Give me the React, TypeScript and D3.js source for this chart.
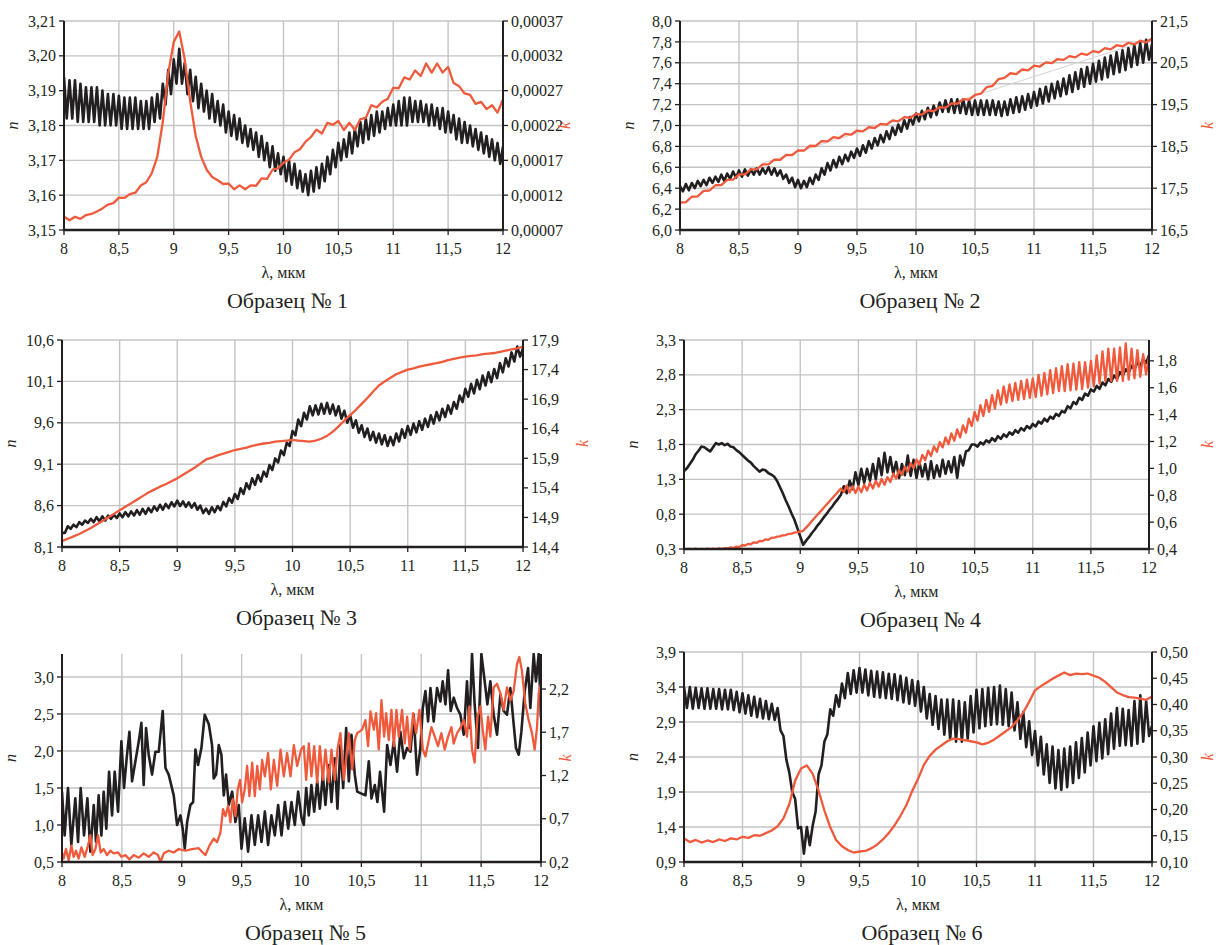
import React from "react";
import * as d3 from "d3";

const INK = "#231f20";
const RED = "#f05a3c";
const GRID = "#c4c4c4";
const FONT = "'Liberation Serif', 'Times New Roman', serif";

const lambdaTicks = [8, 8.5, 9, 9.5, 10, 10.5, 11, 11.5, 12];

// ---- Образец № 1 (n step 0.025 мкм, k step 0.05 мкм)
const n1 = [
  3.194, 3.182, 3.193, 3.182, 3.193, 3.181, 3.192, 3.181, 3.191, 3.181,
  3.191, 3.181, 3.191, 3.18, 3.19, 3.18, 3.189, 3.18, 3.189, 3.18,
  3.1885, 3.179, 3.188, 3.179, 3.188, 3.179, 3.188, 3.179, 3.187, 3.179,
  3.187, 3.179, 3.188, 3.181, 3.189, 3.182, 3.192, 3.186, 3.196, 3.189,
  3.199, 3.192, 3.202, 3.192, 3.198, 3.189, 3.196, 3.187, 3.194, 3.185,
  3.192, 3.184, 3.19, 3.182, 3.189, 3.181, 3.187, 3.18, 3.186, 3.178,
  3.184, 3.177, 3.183, 3.176, 3.182, 3.175, 3.18, 3.174, 3.179, 3.173,
  3.178, 3.171, 3.177, 3.17, 3.175, 3.168, 3.174, 3.167, 3.172, 3.166,
  3.171, 3.164, 3.17, 3.163, 3.169, 3.162, 3.167, 3.161, 3.166, 3.16,
  3.167, 3.161, 3.168, 3.162, 3.169, 3.164, 3.171, 3.166, 3.173, 3.168,
  3.175, 3.17, 3.176, 3.171, 3.178, 3.172, 3.179, 3.174, 3.181, 3.175,
  3.182, 3.176, 3.183, 3.177, 3.184, 3.178, 3.184, 3.179, 3.185, 3.18,
  3.186, 3.18, 3.187, 3.18, 3.188, 3.18, 3.188, 3.181, 3.187, 3.181,
  3.187, 3.181, 3.186, 3.18, 3.186, 3.18, 3.185, 3.179, 3.185, 3.178,
  3.184, 3.178, 3.183, 3.176, 3.182, 3.175, 3.181, 3.175, 3.18, 3.174,
  3.179, 3.173, 3.178, 3.172, 3.177, 3.171, 3.176, 3.17, 3.175, 3.169,
  3.174,
];
const k1 = [
  8.9e-5, 8.4e-5, 8.9e-5, 8.6e-5, 9.15e-5, 9.3e-5, 9.65e-5, 10.1e-5, 10.65e-5, 10.85e-5,
  11.65e-5, 11.6e-5, 12.15e-5, 12.35e-5, 13.4e-5, 13.85e-5, 15.15e-5, 17.5e-5, 22.5e-5, 29.5e-5,
  34e-5, 35.5e-5, 31.5e-5, 25.5e-5, 20.5e-5, 17.5e-5, 15.65e-5, 14.6e-5, 14.15e-5, 13.6e-5,
  13.65e-5, 12.85e-5, 13.4e-5, 12.85e-5, 13.4e-5, 13.35e-5, 14.4e-5, 14.35e-5, 15.65e-5, 15.85e-5,
  16.65e-5, 17.1e-5, 18.15e-5, 18.6e-5, 19.65e-5, 20.35e-5, 21.4e-5, 20.85e-5, 22.4e-5, 22.1e-5,
  22.65e-5, 21.35e-5, 22.4e-5, 21.35e-5, 22.9e-5, 23.1e-5, 24.9e-5, 24.6e-5, 25.4e-5, 25.85e-5,
  27.4e-5, 27.35e-5, 28.9e-5, 28.6e-5, 29.9e-5, 29.1e-5, 30.9e-5, 29.6e-5, 30.9e-5, 29.6e-5,
  30.4e-5, 28.1e-5, 27.65e-5, 26.6e-5, 26.4e-5, 25.1e-5, 25.4e-5, 24.35e-5, 24.9e-5, 23.85e-5,
  25.75e-5,
];
const nTicks1 = [3.15, 3.16, 3.17, 3.18, 3.19, 3.2, 3.21];
const kTicks1 = [0.00007, 0.00012, 0.00017, 0.00022, 0.00027, 0.00032, 0.00037];

// ---- Образец № 2
const n2 = [
  6.42, 6.37, 6.44, 6.38, 6.45, 6.4, 6.47, 6.42, 6.48, 6.43,
  6.5, 6.45, 6.51, 6.46, 6.53, 6.47, 6.54, 6.49, 6.56, 6.5,
  6.57, 6.51, 6.58, 6.52, 6.58, 6.53, 6.59, 6.53, 6.59, 6.54,
  6.6, 6.53, 6.59, 6.52, 6.57, 6.49, 6.53, 6.45, 6.5, 6.41,
  6.48, 6.4, 6.47, 6.41, 6.5, 6.44, 6.53, 6.48, 6.59, 6.53,
  6.64, 6.57, 6.67, 6.6, 6.7, 6.63, 6.72, 6.66, 6.75, 6.69,
  6.78, 6.71, 6.81, 6.74, 6.85, 6.78, 6.88, 6.81, 6.91, 6.84,
  6.945, 6.87, 6.98, 6.91, 7.01, 6.94, 7.05, 6.97, 7.08, 7.01,
  7.115, 7.04, 7.14, 7.06, 7.17, 7.08, 7.19, 7.1, 7.22, 7.13,
  7.24, 7.13, 7.25, 7.12, 7.25, 7.12, 7.25, 7.11, 7.24, 7.1,
  7.24, 7.1, 7.24, 7.1, 7.24, 7.1, 7.24, 7.1, 7.23, 7.09,
  7.23, 7.1, 7.25, 7.12, 7.27, 7.13, 7.28, 7.15, 7.3, 7.17,
  7.32, 7.19, 7.35, 7.21, 7.37, 7.23, 7.4, 7.26, 7.42, 7.28,
  7.45, 7.3, 7.48, 7.32, 7.51, 7.35, 7.54, 7.37, 7.56, 7.4,
  7.59, 7.42, 7.62, 7.44, 7.65, 7.46, 7.67, 7.49, 7.7, 7.51,
  7.72, 7.53, 7.74, 7.56, 7.77, 7.58, 7.79, 7.6, 7.82, 7.63,
  7.78,
];
const k2 = [
  17.155, 17.165, 17.295, 17.305, 17.435, 17.445, 17.57, 17.575, 17.7, 17.705,
  17.83, 17.83, 17.95, 17.95, 18.07, 18.07, 18.185, 18.18, 18.295, 18.29,
  18.405, 18.4, 18.515, 18.51, 18.625, 18.62, 18.72, 18.7, 18.8, 18.78,
  18.88, 18.86, 18.96, 18.94, 19.04, 19.02, 19.12, 19.1, 19.2, 19.18,
  19.28, 19.26, 19.36, 19.34, 19.44, 19.42, 19.53, 19.52, 19.63, 19.62,
  19.73, 19.76, 19.92, 19.95, 20.11, 20.14, 20.25, 20.23, 20.34, 20.32,
  20.43, 20.41, 20.51, 20.49, 20.59, 20.57, 20.66, 20.63, 20.72, 20.69,
  20.78, 20.75, 20.85, 20.82, 20.92, 20.89, 20.98, 20.94, 21.03, 20.99,
  21.08,
];
const trend2: [number, number][] = [[8.7, 18.1], [12, 21.07]];
const nTicks2 = [6.0, 6.2, 6.4, 6.6, 6.8, 7.0, 7.2, 7.4, 7.6, 7.8, 8.0];
const kTicks2 = [16.5, 17.5, 18.5, 19.5, 20.5, 21.5];

// ---- Образец № 3
const n3 = [
  8.27, 8.27, 8.35, 8.32, 8.37, 8.34, 8.4, 8.37, 8.42, 8.39,
  8.44, 8.4, 8.46, 8.41, 8.47, 8.42, 8.48, 8.44, 8.49, 8.45,
  8.505, 8.46, 8.52, 8.47, 8.53, 8.48, 8.545, 8.49, 8.56, 8.5,
  8.57, 8.52, 8.59, 8.54, 8.61, 8.55, 8.62, 8.57, 8.64, 8.59,
  8.66, 8.595, 8.65, 8.585, 8.64, 8.575, 8.63, 8.55, 8.6, 8.51,
  8.565, 8.5, 8.58, 8.52, 8.595, 8.545, 8.645, 8.59, 8.69, 8.635,
  8.74, 8.68, 8.81, 8.74, 8.87, 8.8, 8.93, 8.85, 8.97, 8.89,
  9.01, 8.95, 9.09, 9.03, 9.17, 9.12, 9.265, 9.21, 9.36, 9.32,
  9.5, 9.45, 9.64, 9.56, 9.72, 9.64, 9.8, 9.69, 9.81, 9.7,
  9.83, 9.71, 9.84, 9.71, 9.82, 9.69, 9.8, 9.65, 9.745, 9.6,
  9.69, 9.54, 9.63, 9.48, 9.57, 9.43, 9.53, 9.39, 9.49, 9.36,
  9.47, 9.34, 9.45, 9.32, 9.43, 9.33, 9.47, 9.375, 9.52, 9.42,
  9.56, 9.455, 9.59, 9.485, 9.62, 9.515, 9.65, 9.55, 9.69, 9.59,
  9.73, 9.63, 9.77, 9.67, 9.81, 9.71, 9.85, 9.77, 9.93, 9.85,
  10.01, 9.915, 10.07, 9.955, 10.12, 10.005, 10.17, 10.05, 10.21, 10.09,
  10.25, 10.14, 10.32, 10.21, 10.38, 10.28, 10.45, 10.34, 10.52, 10.4,
  10.5,
];
const k3 = [
  14.5, 14.54, 14.58, 14.62, 14.67, 14.72, 14.78, 14.84, 14.9, 14.96,
  15.02, 15.08, 15.14, 15.2, 15.26, 15.32, 15.37, 15.42, 15.46, 15.51,
  15.56, 15.62, 15.68, 15.74, 15.81, 15.88, 15.91, 15.95, 15.98, 16.01,
  16.04, 16.06, 16.08, 16.11, 16.13, 16.15, 16.16, 16.18, 16.19, 16.2,
  16.21, 16.2, 16.19, 16.18, 16.2, 16.23, 16.28, 16.35, 16.44, 16.54,
  16.63, 16.72, 16.82, 16.92, 17.03, 17.13, 17.2, 17.26, 17.32, 17.36,
  17.4, 17.42, 17.45, 17.47, 17.49, 17.51, 17.53, 17.56, 17.58, 17.6,
  17.62, 17.63, 17.64, 17.66, 17.67, 17.68, 17.7, 17.72, 17.74, 17.76,
  17.79,
];
const nTicks3 = [8.1, 8.6, 9.1, 9.6, 10.1, 10.6];
const kTicks3 = [14.4, 14.9, 15.4, 15.9, 16.4, 16.9, 17.4, 17.9];

// ---- Образец № 4
const n4 = [
  1.42, 1.46, 1.52, 1.58, 1.66, 1.71, 1.77, 1.76, 1.73, 1.7,
  1.76, 1.82, 1.8, 1.82, 1.79, 1.81, 1.77, 1.76, 1.72, 1.69,
  1.65, 1.61, 1.57, 1.54, 1.49, 1.45, 1.41, 1.44, 1.43, 1.39,
  1.37, 1.34, 1.28, 1.19, 1.1, 1.0, 0.91, 0.81, 0.72, 0.6,
  0.48, 0.36, 0.42, 0.47, 0.53, 0.58, 0.64, 0.69, 0.75, 0.8,
  0.86, 0.91, 0.97, 1.02, 1.08, 1.2, 1.1, 1.28, 1.16, 1.4,
  1.22, 1.45, 1.25, 1.45, 1.28, 1.52, 1.3, 1.6, 1.36, 1.68,
  1.4, 1.62, 1.38, 1.55, 1.32, 1.52, 1.36, 1.64, 1.35, 1.58,
  1.32, 1.55, 1.34, 1.52, 1.3, 1.56, 1.32, 1.5, 1.34, 1.58,
  1.38, 1.56, 1.4, 1.62, 1.32, 1.64, 1.5, 1.7, 1.72, 1.8,
  1.8, 1.77, 1.83, 1.8, 1.86, 1.83, 1.89, 1.85, 1.92, 1.88,
  1.945, 1.91, 1.975, 1.94, 2.005, 1.97, 2.035, 2.0, 2.065, 2.03,
  2.095, 2.06, 2.13, 2.1, 2.17, 2.13, 2.2, 2.17, 2.24, 2.21,
  2.28, 2.26, 2.35, 2.32, 2.41, 2.38, 2.47, 2.44, 2.53, 2.5,
  2.59, 2.56, 2.64, 2.6, 2.69, 2.65, 2.74, 2.7, 2.79, 2.74,
  2.84, 2.79, 2.88, 2.83, 2.93, 2.88, 2.98, 2.92, 3.03, 2.97,
  3.08,
];
const k4 = [
  0.402, 0.398, 0.401, 0.397, 0.402, 0.398, 0.401, 0.398, 0.402, 0.399,
  0.403, 0.399, 0.404, 0.401, 0.407, 0.404, 0.412, 0.408, 0.418, 0.414,
  0.428, 0.426, 0.438, 0.435, 0.45, 0.446, 0.46, 0.458, 0.472, 0.468,
  0.482, 0.484, 0.492, 0.494, 0.502, 0.504, 0.512, 0.514, 0.522, 0.525,
  0.53, 0.535, 0.559, 0.583, 0.608, 0.632, 0.656, 0.68, 0.705, 0.729,
  0.753, 0.777, 0.802, 0.826, 0.85, 0.823, 0.872, 0.82, 0.868, 0.817,
  0.865, 0.822, 0.879, 0.836, 0.893, 0.85, 0.907, 0.864, 0.921, 0.878,
  0.935, 0.898, 0.961, 0.924, 0.987, 0.95, 1.013, 0.976, 1.039, 1.002,
  1.065, 1.028, 1.1, 1.06, 1.132, 1.092, 1.164, 1.124, 1.196, 1.156,
  1.23, 1.18, 1.26, 1.205, 1.29, 1.23, 1.32, 1.265, 1.37, 1.315,
  1.42, 1.355, 1.47, 1.39, 1.51, 1.42, 1.545, 1.445, 1.58, 1.475,
  1.61, 1.49, 1.625, 1.5, 1.635, 1.51, 1.65, 1.515, 1.66, 1.525,
  1.67, 1.53, 1.695, 1.54, 1.71, 1.55, 1.73, 1.56, 1.745, 1.575,
  1.76, 1.575, 1.775, 1.58, 1.78, 1.585, 1.79, 1.59, 1.79, 1.6,
  1.8, 1.61, 1.84, 1.63, 1.87, 1.65, 1.89, 1.65, 1.89, 1.65,
  1.9, 1.65, 1.93, 1.66, 1.89, 1.67, 1.88, 1.68, 1.85, 1.7,
  1.83,
];
const nTicks4 = [0.3, 0.8, 1.3, 1.8, 2.3, 2.8, 3.3];
const kTicks4 = [0.4, 0.6, 0.8, 1.0, 1.2, 1.4, 1.6, 1.8];

// ---- Образец № 5 ([λ, value] pairs)
const n5: [number, number][] = [
  [8.0, 1.45], [8.022, 0.86], [8.05, 1.5], [8.078, 0.73], [8.111, 1.36], [8.134, 0.77], [8.156, 1.5], [8.184, 0.86],
  [8.212, 1.36], [8.237, 0.64], [8.265, 1.27], [8.284, 0.77], [8.306, 1.4], [8.329, 0.86], [8.348, 1.45], [8.37, 0.95],
  [8.393, 1.72], [8.418, 1.13], [8.44, 1.72], [8.468, 1.18], [8.496, 2.13], [8.518, 1.5], [8.54, 1.9], [8.563, 2.26],
  [8.585, 1.59], [8.613, 1.86], [8.641, 2.13], [8.663, 2.38], [8.682, 1.54], [8.702, 2.31], [8.724, 1.95], [8.752, 1.68],
  [8.78, 1.99], [8.808, 1.99], [8.841, 2.54], [8.864, 1.77], [8.891, 1.68], [8.933, 1.4], [8.961, 1.0], [8.989, 1.13],
  [9.008, 0.95], [9.025, 0.68], [9.045, 1.04], [9.072, 1.27], [9.095, 1.31], [9.114, 2.02], [9.136, 1.81], [9.164, 2.04],
  [9.192, 2.49], [9.226, 2.36], [9.253, 2.08], [9.267, 1.63], [9.287, 1.68], [9.309, 2.08], [9.331, 1.95], [9.351, 1.4],
  [9.37, 1.68], [9.393, 1.27], [9.421, 1.45], [9.448, 1.04], [9.476, 1.27], [9.499, 0.68], [9.526, 1.09], [9.554, 0.64],
  [9.582, 1.13], [9.61, 0.73], [9.638, 1.13], [9.666, 0.77], [9.694, 1.18], [9.721, 0.73], [9.749, 1.13], [9.777, 0.86],
  [9.805, 1.27], [9.833, 0.86], [9.861, 1.31], [9.889, 0.95], [9.916, 1.31], [9.944, 1.0], [9.972, 1.45],
  [10.0, 1.1], [10.019, 1.0], [10.039, 1.5], [10.061, 1.13], [10.083, 1.54], [10.106, 1.18], [10.131, 1.59], [10.153, 1.22],
  [10.178, 1.68], [10.2, 1.27], [10.228, 1.81], [10.25, 1.31], [10.278, 1.9], [10.3, 1.22], [10.325, 2.08], [10.348, 1.5],
  [10.373, 2.31], [10.395, 1.59], [10.417, 2.22], [10.445, 1.68], [10.465, 1.45], [10.492, 1.43], [10.534, 1.4], [10.562, 1.86],
  [10.584, 1.36], [10.612, 1.54], [10.634, 1.31], [10.656, 1.72], [10.69, 1.18], [10.715, 2.08], [10.743, 1.81], [10.771, 2.13],
  [10.798, 1.72], [10.826, 2.26], [10.854, 1.9], [10.882, 2.04], [10.91, 1.99], [10.937, 2.49], [10.965, 1.68], [10.993, 2.04],
  [11.013, 2.58], [11.035, 2.81], [11.057, 2.4], [11.077, 2.85], [11.104, 2.4], [11.132, 2.85], [11.16, 2.67], [11.179, 2.94],
  [11.202, 2.63], [11.224, 3.09], [11.246, 2.54], [11.271, 2.72], [11.299, 2.58], [11.327, 2.49], [11.355, 2.22], [11.382, 2.94],
  [11.402, 2.31], [11.424, 3.31], [11.446, 2.63], [11.474, 2.04], [11.502, 3.31], [11.53, 2.94], [11.552, 2.63], [11.577, 2.94],
  [11.605, 2.49], [11.633, 2.22], [11.661, 2.76], [11.688, 2.54], [11.716, 2.49], [11.744, 2.85], [11.772, 2.36], [11.791, 2.04],
  [11.814, 1.95], [11.836, 2.26], [11.864, 2.81], [11.892, 3.12], [11.911, 2.58], [11.939, 3.31], [11.958, 2.94], [11.981, 3.31],
  [12.0, 2.45],
];
const k5: [number, number][] = [
  [8.0, 0.31], [8.014, 0.24], [8.033, 0.35], [8.056, 0.22], [8.078, 0.39], [8.097, 0.26], [8.117, 0.33], [8.139, 0.24],
  [8.162, 0.37], [8.189, 0.26], [8.217, 0.39], [8.237, 0.51], [8.256, 0.28], [8.279, 0.35], [8.301, 0.51], [8.323, 0.31],
  [8.348, 0.35], [8.376, 0.28], [8.404, 0.33], [8.432, 0.3], [8.468, 0.31], [8.496, 0.26], [8.529, 0.28], [8.563, 0.23],
  [8.599, 0.28], [8.641, 0.25], [8.682, 0.3], [8.724, 0.26], [8.766, 0.31], [8.802, 0.28], [8.822, 0.2], [8.85, 0.3],
  [8.891, 0.33], [8.933, 0.31], [8.975, 0.35], [9.031, 0.33], [9.086, 0.35], [9.142, 0.36], [9.175, 0.31], [9.198, 0.28],
  [9.231, 0.39], [9.267, 0.47], [9.295, 0.43], [9.323, 0.54], [9.345, 0.81], [9.365, 0.73], [9.387, 0.85], [9.407, 0.66],
  [9.426, 0.93], [9.448, 0.73], [9.468, 1.04], [9.487, 1.15], [9.504, 0.89], [9.526, 1.04], [9.546, 1.31], [9.565, 0.96],
  [9.588, 1.35], [9.61, 0.96], [9.63, 1.31], [9.652, 1.04], [9.671, 1.38], [9.694, 1.19], [9.721, 1.46], [9.744, 1.04],
  [9.769, 1.38], [9.797, 1.08], [9.825, 1.5], [9.852, 1.19], [9.88, 1.46], [9.908, 1.19], [9.936, 1.55], [9.964, 1.31],
  [9.997, 1.5], [10.019, 1.54], [10.039, 1.15], [10.061, 1.57], [10.083, 1.19], [10.106, 1.54], [10.131, 1.12], [10.153, 1.54],
  [10.178, 1.15], [10.2, 1.5], [10.228, 1.12], [10.25, 1.5], [10.278, 1.15], [10.3, 1.5], [10.325, 1.69], [10.353, 1.15],
  [10.381, 1.5], [10.395, 1.69], [10.423, 1.27], [10.445, 1.61], [10.465, 1.69], [10.487, 1.71], [10.506, 1.73], [10.534, 1.84],
  [10.556, 1.54], [10.576, 1.94], [10.604, 1.73], [10.623, 1.92], [10.645, 1.5], [10.668, 2.07], [10.69, 1.65], [10.707, 1.92],
  [10.729, 1.61], [10.751, 1.96], [10.771, 1.54], [10.793, 1.96], [10.812, 1.65], [10.84, 1.96], [10.862, 1.57], [10.882, 1.88],
  [10.904, 1.5], [10.932, 1.92], [10.957, 1.69], [10.985, 1.96], [11.013, 1.5], [11.035, 1.42], [11.057, 1.57], [11.085, 1.76],
  [11.113, 1.65], [11.14, 1.54], [11.168, 1.69], [11.196, 1.5], [11.224, 1.65], [11.252, 1.76], [11.271, 1.57], [11.299, 1.69],
  [11.327, 1.75], [11.355, 1.84], [11.382, 1.65], [11.402, 2.0], [11.424, 1.5], [11.446, 1.35], [11.469, 1.88], [11.494, 2.0],
  [11.513, 1.73], [11.535, 1.5], [11.558, 1.88], [11.577, 1.65], [11.605, 2.22], [11.633, 2.26], [11.661, 2.15], [11.688, 1.96],
  [11.716, 2.22], [11.744, 2.07], [11.772, 2.18], [11.8, 2.49], [11.819, 2.57], [11.841, 2.41], [11.869, 2.03], [11.897, 1.84],
  [11.925, 1.69], [11.947, 1.5], [11.967, 1.76], [11.981, 2.15], [12.0, 2.26],
];
const nTicks5 = [0.5, 1.0, 1.5, 2.0, 2.5, 3.0];
const kTicks5 = [0.2, 0.7, 1.2, 1.7, 2.2];

// ---- Образец № 6
const n6 = [
  3.4, 3.1, 3.4, 3.09, 3.39, 3.1, 3.38, 3.09, 3.38, 3.09,
  3.37, 3.09, 3.37, 3.08, 3.36, 3.08, 3.36, 3.07, 3.33, 3.04,
  3.31, 3.02, 3.28, 2.99, 3.26, 2.97, 3.23, 2.95, 3.2, 2.94,
  3.16, 2.93, 3.1, 2.78, 2.7, 2.36, 2.18, 1.9, 1.8, 1.38,
  1.4, 1.02, 1.4, 1.14, 1.42, 1.62, 2.15, 2.28, 2.62, 2.72,
  3.08, 2.99, 3.28, 3.12, 3.45, 3.24, 3.6, 3.3, 3.64, 3.32,
  3.67, 3.32, 3.65, 3.28, 3.63, 3.26, 3.62, 3.25, 3.61, 3.24,
  3.59, 3.23, 3.58, 3.21, 3.56, 3.18, 3.53, 3.16, 3.5, 3.13,
  3.48, 3.05, 3.4, 2.95, 3.3, 2.86, 3.27, 2.8, 3.22, 2.72,
  3.22, 2.65, 3.22, 2.62, 3.2, 2.62, 3.18, 2.66, 3.27, 2.75,
  3.36, 2.81, 3.37, 2.84, 3.39, 2.86, 3.4, 2.87, 3.42, 2.86,
  3.37, 2.84, 3.32, 2.78, 3.18, 2.66, 3.04, 2.54, 2.91, 2.43,
  2.77, 2.28, 2.69, 2.15, 2.58, 2.03, 2.55, 1.95, 2.5, 1.93,
  2.52, 1.97, 2.55, 2.03, 2.61, 2.1, 2.67, 2.18, 2.75, 2.28,
  2.84, 2.34, 2.89, 2.38, 2.94, 2.44, 3.02, 2.52, 3.1, 2.56,
  3.09, 2.57, 3.07, 2.56, 3.2, 2.59, 3.28, 2.62, 3.2, 2.7,
  2.85,
];
const k6 = [
  0.145, 0.138, 0.142, 0.137, 0.141, 0.138, 0.143, 0.14, 0.145, 0.143,
  0.148, 0.146, 0.151, 0.15, 0.155, 0.16, 0.168, 0.183, 0.21, 0.255,
  0.278, 0.284, 0.268, 0.236, 0.198, 0.166, 0.142, 0.13, 0.123, 0.118,
  0.12, 0.121, 0.126, 0.133, 0.143, 0.155, 0.17, 0.188, 0.208, 0.235,
  0.258, 0.285, 0.302, 0.314, 0.322, 0.33, 0.335, 0.334, 0.332, 0.33,
  0.328, 0.324, 0.327, 0.333, 0.341, 0.349, 0.357, 0.37, 0.385, 0.405,
  0.427, 0.435, 0.442, 0.449, 0.455, 0.461, 0.456, 0.459, 0.458, 0.459,
  0.455, 0.451, 0.443, 0.433, 0.423, 0.418, 0.414, 0.413, 0.411, 0.409,
  0.415,
];
const nTicks6 = [0.9, 1.4, 1.9, 2.4, 2.9, 3.4, 3.9];
const kTicks6 = [0.1, 0.15, 0.2, 0.25, 0.3, 0.35, 0.4, 0.45, 0.5];

// evenly sampled series span 8..12 мкм
const onGrid = (vals: number[]): [number, number][] =>
  vals.map((v, i) => [8 + (4 * i) / (vals.length - 1), v]);

const fmt = (d: number, digits: number) => d.toFixed(digits).replace(".", ",");
const fmtX = (d: number) => (Number.isInteger(d) ? String(d) : fmt(d, 1));

type Cfg = {
  title: string;
  box: { left: number; right: number; top: number; bottom: number };
  nDomain: [number, number];
  nTicks: number[];
  nDigits: number;
  kDomain: [number, number];
  kTicks: number[];
  kDigits: number;
  kLabelDx: number;
  n: [number, number][];
  k: [number, number][];
  trend?: [number, number][];
};

const panels: Cfg[] = [
  {
    title: "Образец № 1", box: { left: 64, right: 503, top: 21, bottom: 230 },
    nDomain: [3.15, 3.21], nTicks: nTicks1, nDigits: 2,
    kDomain: [0.00007, 0.00037], kTicks: kTicks1, kDigits: 5, kLabelDx: 67,
    n: onGrid(n1), k: onGrid(k1),
  },
  {
    title: "Образец № 2", box: { left: 680, right: 1152, top: 21, bottom: 230 },
    nDomain: [6, 8], nTicks: nTicks2, nDigits: 1,
    kDomain: [16.5, 21.5], kTicks: kTicks2, kDigits: 1, kLabelDx: 61,
    n: onGrid(n2), k: onGrid(k2), trend: trend2,
  },
  {
    title: "Образец № 3", box: { left: 62, right: 523, top: 340, bottom: 547 },
    nDomain: [8.1, 10.6], nTicks: nTicks3, nDigits: 1,
    kDomain: [14.4, 17.9], kTicks: kTicks3, kDigits: 1, kLabelDx: 65,
    n: onGrid(n3), k: onGrid(k3),
  },
  {
    title: "Образец № 4", box: { left: 684, right: 1149, top: 340, bottom: 549 },
    nDomain: [0.3, 3.3], nTicks: nTicks4, nDigits: 1,
    kDomain: [0.4, 1.955], kTicks: kTicks4, kDigits: 1, kLabelDx: 64,
    n: onGrid(n4), k: onGrid(k4),
  },
  {
    title: "Образец № 5", box: { left: 62, right: 541, top: 654, bottom: 862 },
    nDomain: [0.5, 3.31], nTicks: nTicks5, nDigits: 1,
    kDomain: [0.2, 2.605], kTicks: kTicks5, kDigits: 1, kLabelDx: 30,
    n: n5, k: k5,
  },
  {
    title: "Образец № 6", box: { left: 684, right: 1152, top: 652, bottom: 862 },
    nDomain: [0.9, 3.9], nTicks: nTicks6, nDigits: 1,
    kDomain: [0.1, 0.5], kTicks: kTicks6, kDigits: 2, kLabelDx: 61,
    n: onGrid(n6), k: onGrid(k6),
  },
];

function Panel({ cfg, id }: { cfg: Cfg; id: number }) {
  const { left, right, top, bottom } = cfg.box;
  const x = d3.scaleLinear().domain([8, 12]).range([left, right]);
  const yN = d3.scaleLinear().domain(cfg.nDomain).range([bottom, top]);
  const yK = d3.scaleLinear().domain(cfg.kDomain).range([bottom, top]);
  const lineN = d3.line<[number, number]>().x((d) => x(d[0])).y((d) => yN(d[1]));
  const lineK = d3.line<[number, number]>().x((d) => x(d[0])).y((d) => yK(d[1]));
  const cx = (left + right) / 2;
  const cy = (top + bottom) / 2;

  return (
    <g>
      <clipPath id={`clip-${id}`}>
        <rect x={left} y={top - 1} width={right - left} height={bottom - top + 1} />
      </clipPath>

      {/* grid */}
      {lambdaTicks.map((t) => (
        <line key={`gx${t}`} x1={x(t)} x2={x(t)} y1={top} y2={bottom} stroke={GRID} strokeWidth={1.4} />
      ))}
      {cfg.nTicks.map((t) => (
        <line key={`gy${t}`} x1={left} x2={right} y1={yN(t)} y2={yN(t)} stroke={GRID} strokeWidth={1.4} />
      ))}

      <g clipPath={`url(#clip-${id})`}>
        {cfg.trend && <path d={lineK(cfg.trend) || ""} fill="none" stroke="#d4d4d4" strokeWidth={1} />}
        <path d={lineN(cfg.n) || ""} fill="none" stroke={INK} strokeWidth={2.6} strokeLinejoin="round" />
        <path d={lineK(cfg.k) || ""} fill="none" stroke={RED} strokeWidth={2.3} strokeLinejoin="round" />
      </g>

      {/* axes */}
      <line x1={left} x2={left} y1={top} y2={bottom} stroke={INK} strokeWidth={2} />
      <line x1={right} x2={right} y1={top} y2={bottom} stroke={INK} strokeWidth={2} />
      <line x1={left - 1} x2={right + 1} y1={bottom} y2={bottom} stroke={INK} strokeWidth={2.5} />

      {cfg.nTicks.map((t) => (
        <g key={`nt${t}`}>
          <line x1={left - 5} x2={left} y1={yN(t)} y2={yN(t)} stroke={INK} strokeWidth={1.3} />
          <text x={left - 8} y={yN(t)} dy="0.35em" textAnchor="end">{fmt(t, cfg.nDigits)}</text>
        </g>
      ))}
      {cfg.kTicks.map((t) => (
        <g key={`kt${t}`}>
          <line x1={right} x2={right + 5} y1={yK(t)} y2={yK(t)} stroke={INK} strokeWidth={1.3} />
          <text x={right + 8} y={yK(t)} dy="0.35em" textAnchor="start">{fmt(t, cfg.kDigits)}</text>
        </g>
      ))}
      {lambdaTicks.map((t) => (
        <g key={`xt${t}`}>
          <line x1={x(t)} x2={x(t)} y1={bottom} y2={bottom + 5} stroke={INK} strokeWidth={1.3} />
          <text x={x(t)} y={bottom + 24} textAnchor="middle">{fmtX(t)}</text>
        </g>
      ))}

      <text transform={`translate(${left - 46},${cy}) rotate(-90)`} textAnchor="middle" fontStyle="italic">n</text>
      <text transform={`translate(${right + cfg.kLabelDx},${cy}) rotate(-90)`} textAnchor="middle" fontStyle="italic" fill={RED}>k</text>
      <text x={cx} y={bottom + 48} textAnchor="middle">λ, мкм</text>
      <text x={cx + 4} y={bottom + 78} textAnchor="middle" fontSize={22}>{cfg.title}</text>
    </g>
  );
}

export default function App() {
  return (
    <svg
      width={1220}
      height={945}
      style={{ position: "absolute", left: 0, top: 0, background: "#fff" }}
      fontFamily={FONT}
      fontSize={16}
      fill={INK}
    >
      {panels.map((p, i) => (
        <Panel key={p.title} cfg={p} id={i} />
      ))}
    </svg>
  );
}
